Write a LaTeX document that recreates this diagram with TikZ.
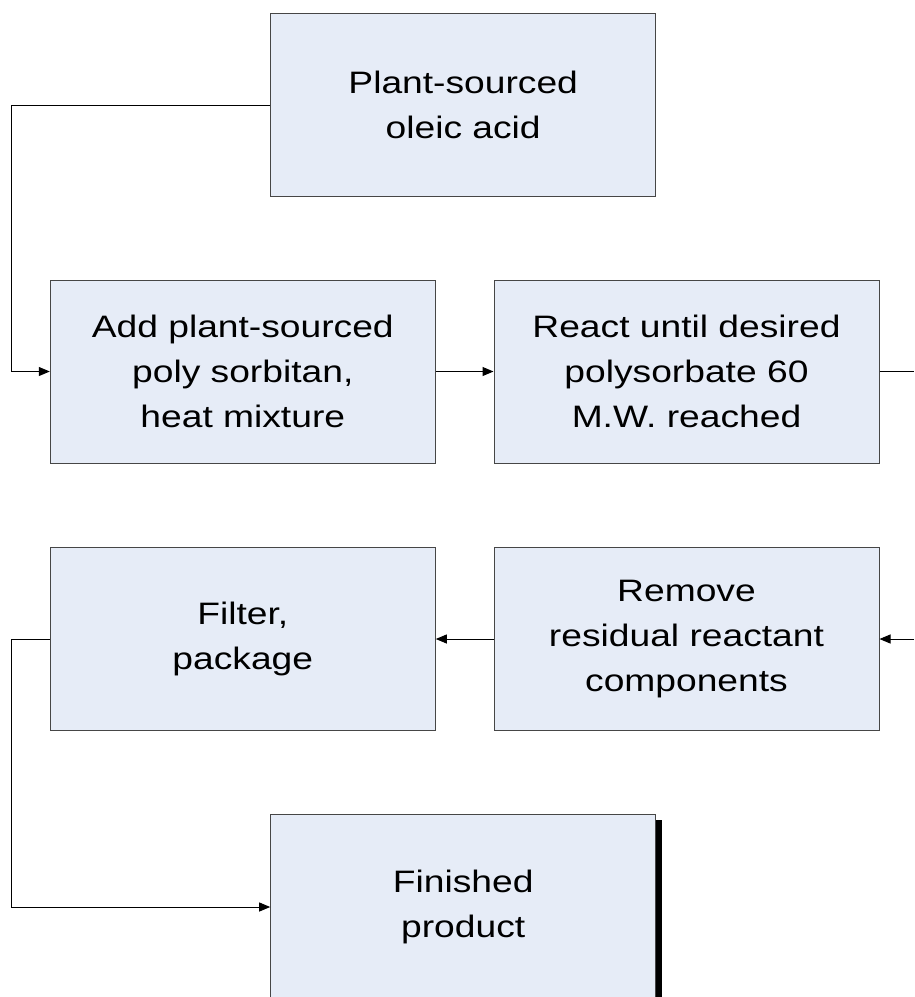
\documentclass[tikz,border=0pt]{standalone}
\usepackage{fontspec}
\setmainfont{Liberation Sans}[FakeStretch=1.2]
\usetikzlibrary{arrows.meta,shadows}
\definecolor{boxfill}{RGB}{230,236,247}
\definecolor{boxline}{RGB}{70,70,70}
\tikzset{
  stepbox/.style={rectangle, draw=boxline, line width=1pt, fill=boxfill,
    minimum width=385pt, minimum height=183pt, inner sep=0pt, align=center,
    font=\fontsize{31}{45}\selectfont, text=black},
  flow/.style={draw=black, line width=1pt, -{Triangle[length=11pt,width=9pt]}},
  plain/.style={draw=black, line width=1pt}
}
\begin{document}
\begin{tikzpicture}[x=1pt,y=-1pt]
\useasboundingbox (0,0) rectangle (914,997);
\node[stepbox] (b1) at (463.2,105) {Plant-sourced\\oleic acid};
\node[stepbox] (b2) at (242.8,371.5) {Add plant-sourced\\poly sorbitan,\\heat mixture};
\node[stepbox] (b3) at (686.5,371.5) {React until desired\\polysorbate 60\\M.W. reached};
\node[stepbox] (b4) at (242.8,639) {Filter,\\package};
\node[stepbox] (b5) at (686.5,639) {Remove\\residual reactant\\components};
\node[stepbox, minimum height=186pt,
  general shadow={fill=black, shadow xshift=6.6pt, shadow yshift=-6pt}] (b6) at (463.2,907) {Finished\\product};
\coordinate (l1) at (11,105);
\coordinate (l2) at (11,371.5);
\coordinate (r1) at (914,371.5);
\coordinate (r2) at (914,639);
\coordinate (l3) at (11,639);
\coordinate (l4) at (11,907);
\draw[flow] (b1.west) -- (l1) -- (l2) -- (b2.west);
\draw[flow] (b2.east) -- (b3.west);
\draw[plain] (b3.east) -- (r1);
\draw[flow] (r2) -- (b5.east);
\draw[flow] (b5.west) -- (b4.east);
\draw[flow] (b4.west) -- (l3) -- (l4) -- (b6.west);
\end{tikzpicture}
\end{document}
